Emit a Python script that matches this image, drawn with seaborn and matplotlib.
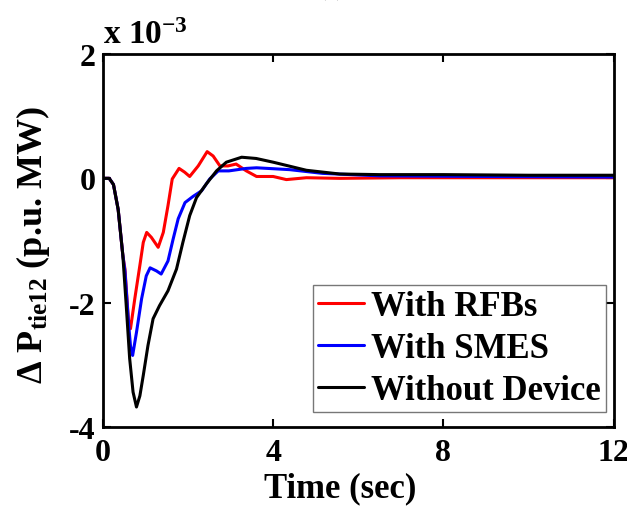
import numpy as np
import pandas as pd
import seaborn as sns
import matplotlib
matplotlib.use("Agg")
import matplotlib.pyplot as plt

# values in units of 1e-3 p.u. MW
t_rfb = [0, 0.15, 0.25, 0.36, 0.47, 0.52, 0.6, 0.65, 0.75, 0.87, 0.95, 1.03,
         1.14, 1.30, 1.42, 1.53, 1.63, 1.79, 1.92, 2.04, 2.24, 2.45, 2.59,
         2.75, 2.94, 3.13, 3.37, 3.61, 4.0, 4.31, 4.78, 5.56, 7.0, 9.0, 12.0]
y_rfb = [0, 0, -0.1, -0.5, -1.24, -1.46, -2.27, -2.42, -1.94, -1.4, -1.03, -0.87,
         -0.95, -1.11, -0.87, -0.44, -0.01, 0.16, 0.1, 0.03, 0.2, 0.43, 0.36,
         0.2, 0.2, 0.23, 0.12, 0.03, 0.03, -0.02, 0.01, 0.0, 0.01, 0.01, 0.01]

t_smes = [0, 0.15, 0.25, 0.36, 0.47, 0.52, 0.6, 0.65, 0.70, 0.79, 0.91, 1.02,
          1.11, 1.26, 1.37, 1.53, 1.65, 1.77, 1.93, 2.12, 2.32, 2.51, 2.71,
          2.96, 3.37, 3.61, 4.39, 5.16, 6.5, 9.0, 12.0]
y_smes = [0, 0, -0.1, -0.5, -1.24, -1.5, -2.3, -2.7, -2.85, -2.48, -1.94, -1.57,
          -1.44, -1.49, -1.54, -1.33, -0.98, -0.65, -0.39, -0.29, -0.2, -0.01, 0.12,
          0.12, 0.16, 0.17, 0.14, 0.08, 0.04, 0.03, 0.02]

t_none = [0, 0.15, 0.25, 0.36, 0.47, 0.55, 0.63, 0.71, 0.79, 0.87, 0.95, 1.06,
          1.18, 1.33, 1.53, 1.73, 1.88, 2.04, 2.2, 2.43, 2.67, 2.9, 3.26,
          3.6, 4.0, 4.78, 5.56, 6.5, 8.0, 10.0, 12.0]
y_none = [0, 0, -0.1, -0.5, -1.24, -2.05, -2.9, -3.44, -3.68, -3.5, -3.17, -2.69,
          -2.26, -2.05, -1.81, -1.46, -1.03, -0.6, -0.31, -0.09, 0.12, 0.26, 0.34,
          0.32, 0.26, 0.13, 0.07, 0.06, 0.06, 0.05, 0.05]

labels = ["With RFBs", "With SMES", "Without Device"]
colors = ["#ff0000", "#0000ff", "#000000"]

df = pd.concat([
    pd.DataFrame({"t": t_rfb, "dP": y_rfb, "case": labels[0]}),
    pd.DataFrame({"t": t_smes, "dP": y_smes, "case": labels[1]}),
    pd.DataFrame({"t": t_none, "dP": y_none, "case": labels[2]}),
])

sns.set_style("ticks")
plt.rcParams["font.family"] = ["Liberation Serif", "DejaVu Serif"]
plt.rcParams["font.weight"] = "bold"
plt.rcParams["mathtext.fontset"] = "custom"
plt.rcParams["mathtext.rm"] = "Liberation Serif:bold"
plt.rcParams["mathtext.it"] = "Liberation Serif:bold"
plt.rcParams["mathtext.bf"] = "Liberation Serif:bold"
plt.rcParams["axes.unicode_minus"] = False
for key in ["text.color", "axes.labelcolor", "xtick.color", "ytick.color",
            "axes.edgecolor"]:
    plt.rcParams[key] = "black"

fig = plt.figure(figsize=(6.27, 5.10), dpi=100)
ax = fig.add_axes([0.164, 0.161, 0.815, 0.731])

sns.lineplot(data=df, x="t", y="dP", hue="case", hue_order=labels,
             palette=colors, linewidth=2.2, sort=False, ax=ax)

ax.set_xlim(0, 12)
ax.set_ylim(-4, 2)
ax.set_xticks([0, 4, 8, 12])
ax.set_yticks([-4, -2, 0, 2])
ax.tick_params(axis="both", direction="in", length=6, width=1.5, labelsize=23,
               top=True, right=True)
ax.tick_params(axis="x", pad=8)
ax.tick_params(axis="y", pad=5)
for lab in ax.get_xticklabels() + ax.get_yticklabels():
    lab.set_fontweight("bold")
for sp in ax.spines.values():
    sp.set_linewidth(2)
    sp.set_visible(True)

ax.set_xlabel("Time (sec)", fontsize=25, fontweight="bold")
ax.xaxis.set_label_coords(0.464, -0.12)
ax.set_ylabel(r"$\Delta$ P$_{\rm tie12}$ (p.u. MW)", fontsize=26,
              fontweight="bold")
ax.yaxis.set_label_coords(-0.10, 0.49)
ax.text(0.0, 1.01, r"x 10$^{-3}$", transform=ax.transAxes, fontsize=24,
        fontweight="bold", ha="left", va="bottom")
fig.text(0.53, 1.02, "(c)", fontsize=18, ha="center", va="center")

leg = ax.legend(loc="lower right", bbox_to_anchor=(0.985, 0.04),
                fontsize=25, handlelength=1.33, handletextpad=0.2,
                borderpad=0.15, labelspacing=0.25, frameon=True, fancybox=False,
                borderaxespad=0)
leg.get_frame().set_edgecolor("#555555")
leg.get_frame().set_linewidth(1.0)
for txt in leg.get_texts():
    txt.set_fontweight("bold")

fig.savefig("out.png", dpi=100)
